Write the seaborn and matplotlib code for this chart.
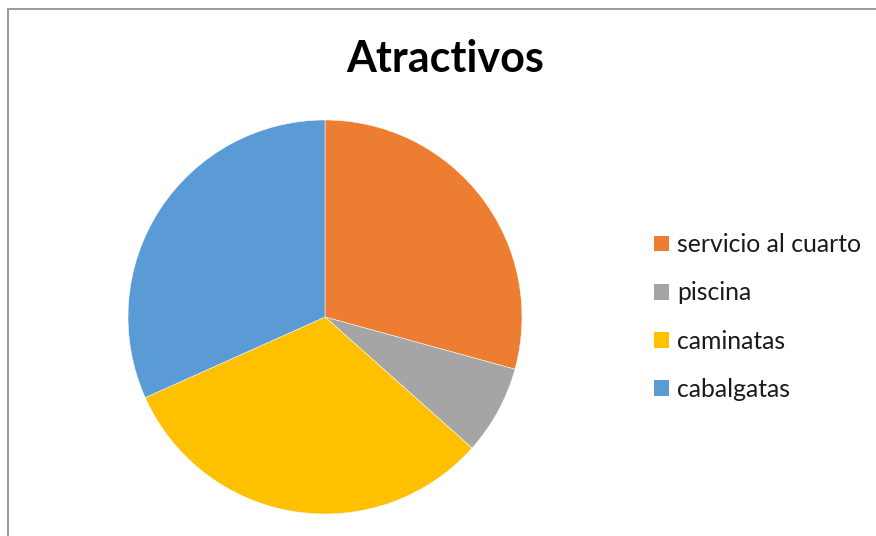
import matplotlib
matplotlib.use("Agg")
import matplotlib.pyplot as plt
from matplotlib.patches import Rectangle, Patch
import seaborn as sns

categories = ["servicio al cuarto", "piscina", "caminatas", "cabalgatas"]
values = [12, 3, 13, 13]
colors = ["#ED7D31", "#A5A5A5", "#FFC000", "#5B9BD5"]
title = "Atractivos"

sns.set_theme(style="white")
plt.rcParams["font.family"] = ["Lato", "DejaVu Sans"]

fig = plt.figure(figsize=(8.76, 5.36), dpi=100)
fig.patch.set_facecolor("white")

# chart-area border (left and top visible)
fig.patches.append(Rectangle((7.5 / 876, -0.1), 1.2, (1 - 8.5 / 536) + 0.1,
                             transform=fig.transFigure, fill=False,
                             edgecolor="#9A9A9A", linewidth=1.4))

cx, cy, r = 325, 317, 197
ax = fig.add_axes([(cx - r) / 876, 1 - (cy + r) / 536, 2 * r / 876, 2 * r / 536])
wedges, _ = ax.pie(values, colors=colors, startangle=90, counterclock=False,
                   radius=1, wedgeprops=dict(edgecolor="white", linewidth=0.35))
ax.set_xlim(-1, 1)
ax.set_ylim(-1, 1)
ax.set_aspect("equal")
ax.axis("off")

fig.text(445 / 876, 1 - 72 / 536, title, ha="center", va="baseline",
         fontsize=31, fontweight="bold", color="black")

handles = [Patch(facecolor=c, edgecolor="none") for c in colors]
fig.legend(handles, categories, loc="center left",
           bbox_to_anchor=(654 / 876, 1 - 317 / 536), frameon=False,
           fontsize=17.8, handlelength=0.6, handleheight=0.6,
           handletextpad=0.35, labelspacing=1.02, borderpad=0,
           borderaxespad=0, labelcolor="#1a1a1a")

fig.savefig("out.png", dpi=100)
